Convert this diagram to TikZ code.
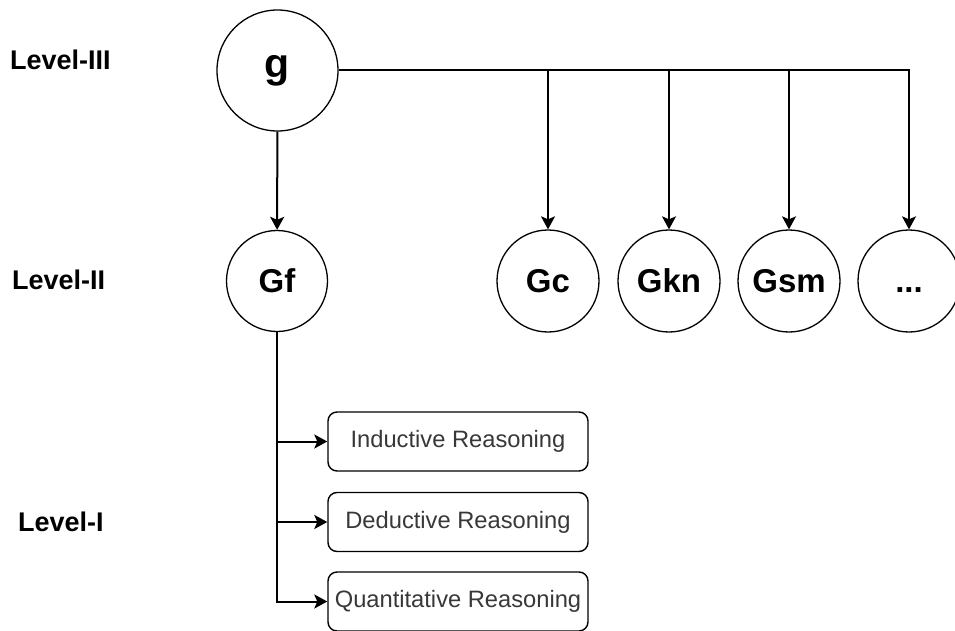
\documentclass[tikz,border=0pt]{standalone}
\usepackage{fontspec}
\setmainfont{Liberation Sans}
\usetikzlibrary{arrows.meta}
\begin{document}
\begin{tikzpicture}[x=1pt,y=-1pt,
  factor/.style={circle,draw,line width=1.3pt,inner sep=0pt,
    font=\bfseries\fontsize{33}{36}\selectfont},
  ability/.style={draw,line width=1.4pt,rounded corners=9pt,
    minimum width=260pt,minimum height=59pt,inner sep=0pt,
    text=black!78,font=\fontsize{23.7}{26}\selectfont},
  levellabel/.style={anchor=base west,inner sep=0pt,
    font=\bfseries\fontsize{27}{30}\selectfont},
  link/.style={line width=2pt,-{Stealth[length=13pt,width=14pt,inset=3pt]}}]
\useasboundingbox (0,0) rectangle (955,631);

% level captions
\node[levellabel] (l3) at (10,70) {Level-III};
\node[levellabel] (l2) at (12,289) {Level-II};
\node[levellabel] (l1) at (18,531) {Level-I};

% general factor and broad abilities
\node[factor,minimum size=121pt,font=\bfseries\fontsize{41}{44}\selectfont] (g) at (277.5,70.5) {g};
\node[factor,minimum size=101pt] (gf) at (277,281) {Gf};
\node[factor,minimum size=102pt] (gc) at (548,281) {Gc};
\node[factor,minimum size=102pt] (gkn) at (669,281) {Gkn};
\node[factor,minimum size=102pt] (gsm) at (789,281) {Gsm};
\node[factor,minimum size=102pt] (more) at (909,281) {\vphantom{G}...};

% narrow abilities under Gf
\node[ability] (ind) at (458,441.5) {Inductive Reasoning};
\node[ability] (ded) at (458,522) {Deductive Reasoning};
\node[ability] (qua) at (458,601.5) {Quantitative Reasoning};

% connectors
\draw[link] (g) -- (gf);
\draw[link] (g.east) -| (more.north);
\draw[link] (g.east -| gc.north) -- (gc.north);
\draw[link] (g.east -| gkn.north) -- (gkn.north);
\draw[link] (g.east -| gsm.north) -- (gsm.north);
\draw[link] (gf.south) |- (ind.west);
\draw[link] (gf.south) |- (ded.west);
\draw[link] (gf.south) |- (qua.west);
\end{tikzpicture}
\end{document}
